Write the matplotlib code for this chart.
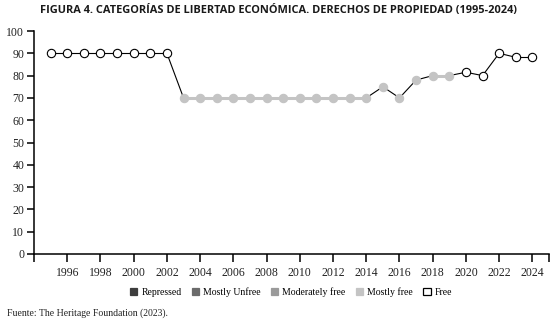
import numpy as np
import matplotlib.pyplot as plt
from matplotlib.patches import Patch

# Datos: derechos de propiedad (1995-2024)
anios = list(range(1995, 2025))
valores = [90, 90, 90, 90, 90, 90, 90, 90,
           70, 70, 70, 70, 70, 70, 70, 70, 70, 70, 70, 70,
           75, 70, 78, 80, 80, 81.5, 80, 90, 88.2, 88.2]
categorias = ["Free"] * 8 + ["Mostly free"] * 14 + ["Mostly free"] * 3 + ["Free"] * 5

leyenda_nombres = ["Repressed", "Mostly Unfree", "Moderately free", "Mostly free", "Free"]
leyenda_colores = ["#3d3d3d", "#6b6b6b", "#9a9a9a", "#c4c4c4", "white"]
color_cat = dict(zip(leyenda_nombres, leyenda_colores))

titulo = "FIGURA 4. CATEGORÍAS DE LIBERTAD ECONÓMICA. DERECHOS DE PROPIEDAD (1995-2024)"
fuente = "Fuente: The Heritage Foundation (2023)."

serif = "Liberation Serif"

fig = plt.figure(figsize=(5.56, 3.21), dpi=100)
ax = fig.add_axes([34 / 556, 1 - 254 / 321, 515 / 556, 223 / 321])

# Segmentos: gris grueso en tramos planos de "Mostly free", negro fino en el resto
for i in range(len(anios) - 1):
    plano = valores[i] == valores[i + 1]
    gris = categorias[i] == "Mostly free" and categorias[i + 1] == "Mostly free" and plano
    if gris:
        ax.plot(anios[i:i + 2], valores[i:i + 2], color="#c4c4c4", lw=2.2,
                solid_capstyle="butt", zorder=2)
    else:
        ax.plot(anios[i:i + 2], valores[i:i + 2], color="black", lw=0.8, zorder=2)

for a, v, c in zip(anios, valores, categorias):
    if c == "Free":
        ax.plot(a, v, "o", ms=6, mfc="white", mec="black", mew=0.8, zorder=3)
    else:
        ax.plot(a, v, "o", ms=6, mfc=color_cat[c], mec=color_cat[c], mew=0.8, zorder=3)

ax.set_xlim(1994, 2025)
ax.set_ylim(0, 100)
ax.set_yticks(np.arange(0, 101, 10))
xt = [1994] + list(range(1996, 2025, 2)) + [2025]
ax.set_xticks(xt)
ax.set_xticklabels([""] + [str(x) for x in range(1996, 2025, 2)] + [""])

for s in ["top", "right"]:
    ax.spines[s].set_visible(False)
ax.spines["left"].set_linewidth(1.1)
ax.spines["bottom"].set_linewidth(1.1)
ax.tick_params(direction="out", length=5, width=1.1, pad=2, labelsize=8.5)
ax.tick_params(axis="x", length=6, pad=3)
for lbl in ax.get_xticklabels() + ax.get_yticklabels():
    lbl.set_fontfamily(serif)
    lbl.set_color("#222222")

fig.text(0.5, 1 - 10 / 321, titulo, ha="center", va="center",
         fontfamily="Open Sans", fontweight="bold", fontsize=7.9, color="#1a1a1a")

handles = [Patch(facecolor=c, edgecolor=("black" if c == "white" else c), linewidth=0.9)
           for c in leyenda_colores]
fig.legend(handles, leyenda_nombres, loc="center", bbox_to_anchor=(291 / 556, 1 - 292 / 321),
           ncol=5, frameon=False, handlelength=0.78, handleheight=0.78, handletextpad=0.4,
           columnspacing=1.05, prop={"family": serif, "size": 7})

fig.text(7 / 556, 1 - 313 / 321, fuente, ha="left", va="center",
         fontfamily=serif, fontsize=7, color="#222222")

fig.savefig("out.png", dpi=100)
